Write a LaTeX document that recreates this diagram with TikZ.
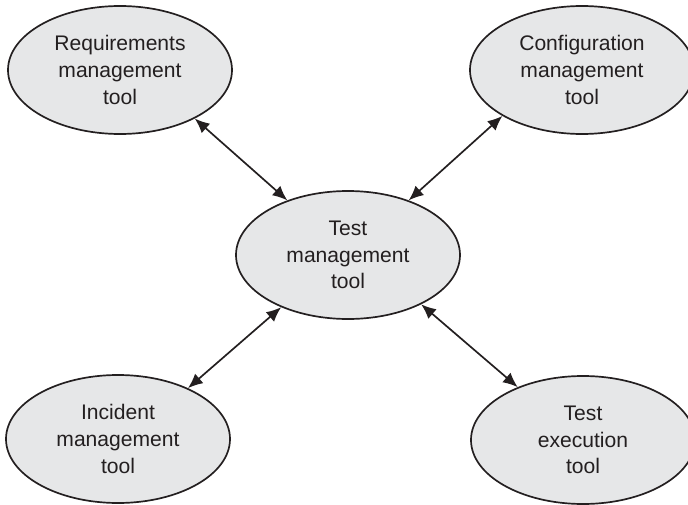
\documentclass[tikz,border=0pt]{standalone}
\usepackage{fontspec}
\setmainfont{Liberation Sans}
\usetikzlibrary{shapes.geometric,arrows.meta}

\definecolor{toolfill}{RGB}{230,231,232}
\definecolor{toolink}{RGB}{35,31,32}

\tikzset{
	tool/.style={ellipse, draw=toolink, line width=1.2pt, fill=toolfill,
		minimum width=5.6cm, minimum height=3.2cm, inner sep=0pt,
		align=center, text=toolink,
		font=\fontsize{15}{19}\selectfont},
	link/.style={line width=1.2pt, draw=toolink,
		{Latex[length=10.5pt,width=9pt]}-{Latex[length=10.5pt,width=9pt]}}
}

\begin{document}
\begin{tikzpicture}

\useasboundingbox (0,0) rectangle (17.2,12.6);

% Herramientas
\node[tool] (req)  at (3.0,10.85)   {Requirements\\management\\tool};
\node[tool] (conf) at (14.55,10.85) {Configuration\\management\\tool};
\node[tool] (test) at (8.7,6.225)   {Test\\management\\tool};
\node[tool] (inc)  at (2.95,1.625)  {Incident\\management\\tool};
\node[tool] (exec) at (14.575,1.6)  {Test\\execution\\tool};

% Enlaces
\foreach \n/\a/\b in {req/-33/138, conf/210/42, inc/36/218, exec/141/-34}
	\draw[link] (\n.\a) -- (test.\b);

\end{tikzpicture}
\end{document}
